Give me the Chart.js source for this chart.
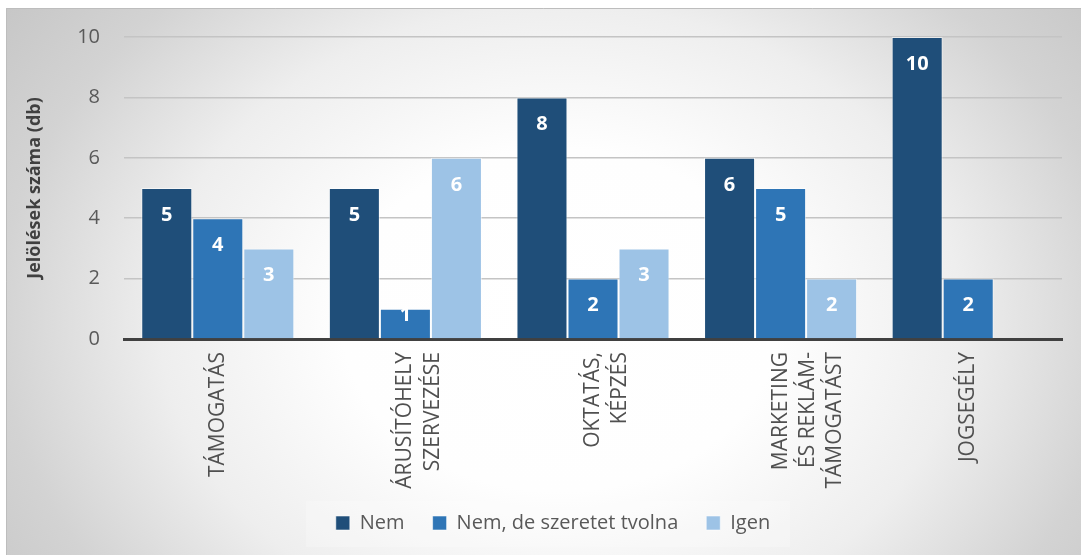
<!DOCTYPE html>
<html lang="hu">
<head>
<meta charset="UTF-8">
<title>Jelölések száma</title>
<script src="https://cdn.jsdelivr.net/npm/chart.js@4.4.1/dist/chart.umd.min.js"></script>
<style>
  html, body { margin: 0; padding: 0; background: #fff; }
  #wrap { width: 1081px; height: 555px; position: relative; }
</style>
</head>
<body>
<div id="wrap"><canvas id="chart"></canvas></div>
<script>
const categories = [
  'TÁMOGATÁS',
  ['ÁRUSÍTÓHELY', 'SZERVEZÉSE'],
  ['OKTATÁS,', 'KÉPZÉS'],
  ['MARKETING', 'ÉS REKLÁM-', 'TÁMOGATÁST'],
  'JOGSEGÉLY'
];
const seriesNames = ['Nem', 'Nem, de szeretet tvolna', 'Igen'];
const nemValues = [5, 5, 8, 6, 10];
const nemDeValues = [4, 1, 2, 5, 2];
const igenValues = [3, 6, 3, 2, null];
const yTicks = [0, 2, 4, 6, 8, 10];

const colors = ['#1F4E79', '#2E75B6', '#9DC3E6'];
const FONT = "'Open Sans', 'DejaVu Sans', sans-serif";

// radial grey-to-white backdrop, framed box and legend panel
const backdrop = {
  id: 'backdrop',
  afterLayout(chart) {
    // long rotated category names may run past the axis box; don't clip them
    chart.scales.x.bottom += 30;
  },
  beforeDraw(chart) {
    const ctx = chart.ctx;
    const x0 = 6, y0 = 8, x1 = chart.width, y1 = chart.height;
    ctx.save();
    ctx.fillStyle = '#ffffff';
    ctx.fillRect(0, 0, chart.width, chart.height);
    ctx.beginPath();
    ctx.rect(x0, y0, x1 - x0, y1 - y0);
    ctx.clip();
    ctx.translate(560, 320);
    ctx.scale(560, 440);
    const g = ctx.createRadialGradient(0, 0, 0, 0, 0, 1.3);
    g.addColorStop(0, '#ffffff');
    g.addColorStop(0.3, '#fefefe');
    g.addColorStop(0.55, '#eeeeee');
    g.addColorStop(0.77, '#d3d3d3');
    g.addColorStop(1, '#c2c2c2');
    ctx.fillStyle = g;
    ctx.fillRect(-2, -2, 4, 4);
    ctx.restore();

    ctx.save();
    ctx.strokeStyle = '#bdbdbd';
    ctx.lineWidth = 1;
    ctx.beginPath();
    ctx.moveTo(x0 + 0.5, y1);
    ctx.lineTo(x0 + 0.5, y0 + 0.5);
    ctx.lineTo(x1, y0 + 0.5);
    ctx.stroke();

    const boxes = chart.legend && chart.legend.legendHitBoxes;
    if (boxes && boxes.length) {
      const first = boxes[0], last = boxes[boxes.length - 1];
      const cy = first.top + first.height / 2;
      ctx.fillStyle = 'rgba(255,255,255,0.22)';
      ctx.fillRect(first.left - 30, cy - 22, last.left + last.width - first.left + 50, 46);
    }
    ctx.restore();
  }
};

// white value labels near the top inside each bar
const barValues = {
  id: 'barValues',
  afterDatasetsDraw(chart) {
    const ctx = chart.ctx;
    ctx.save();
    ctx.fillStyle = '#ffffff';
    ctx.font = 'bold 20px ' + FONT;
    ctx.textAlign = 'center';
    ctx.textBaseline = 'middle';
    chart.data.datasets.forEach((ds, i) => {
      chart.getDatasetMeta(i).data.forEach((bar, j) => {
        const v = ds.data[j];
        if (v === null || v === undefined) return;
        const y = Math.min(bar.y + 27, bar.base - 23);
        ctx.fillText(String(v), bar.x, y);
      });
    });
    ctx.restore();
  }
};

const barStyle = {
  borderWidth: 1,
  borderColor: 'rgba(255,255,255,0.55)',
  categoryPercentage: 0.816,
  barPercentage: 1
};

new Chart(document.getElementById('chart'), {
  type: 'bar',
  data: {
    labels: categories,
    datasets: [
      Object.assign({ label: seriesNames[0], data: nemValues, backgroundColor: colors[0] }, barStyle),
      Object.assign({ label: seriesNames[1], data: nemDeValues, backgroundColor: colors[1] }, barStyle),
      Object.assign({ label: seriesNames[2], data: igenValues, backgroundColor: colors[2] }, barStyle)
    ]
  },
  options: {
    responsive: true,
    maintainAspectRatio: false,
    animation: false,
    layout: { padding: { left: 44, right: 19, top: 37, bottom: 12 } },
    plugins: {
      tooltip: { enabled: false },
      legend: {
        position: 'bottom',
        labels: {
          boxWidth: 14,
          boxHeight: 14,
          padding: 28,
          color: '#595959',
          font: { family: FONT, size: 20 }
        }
      }
    },
    scales: {
      x: {
        grid: { display: false, drawTicks: false },
        border: { display: true, color: '#404040', width: 3 },
        ticks: {
          color: '#505050',
          minRotation: 90,
          maxRotation: 90,
          padding: 13,
          autoSkip: false,
          font: { family: FONT, size: 21, lineHeight: 1.3 }
        },
        afterFit(scale) { scale.height = 146; }
      },
      y: {
        min: 0,
        max: 10,
        afterBuildTicks(scale) { scale.ticks = yTicks.map(v => ({ value: v })); },
        grid: { color: '#c4c4c4', lineWidth: 1.5, drawTicks: false },
        border: { display: false },
        ticks: {
          color: '#595959',
          padding: 24,
          font: { family: FONT, size: 20 }
        },
        title: {
          display: true,
          text: 'Jelölések száma (db)',
          color: '#404040',
          padding: { top: -20, bottom: 0 },
          font: { family: FONT, size: 18, weight: 'bold' }
        },
        afterFit(scale) { scale.width = 124 - 44; }
      }
    }
  },
  plugins: [backdrop, barValues]
});
</script>
</body>
</html>
